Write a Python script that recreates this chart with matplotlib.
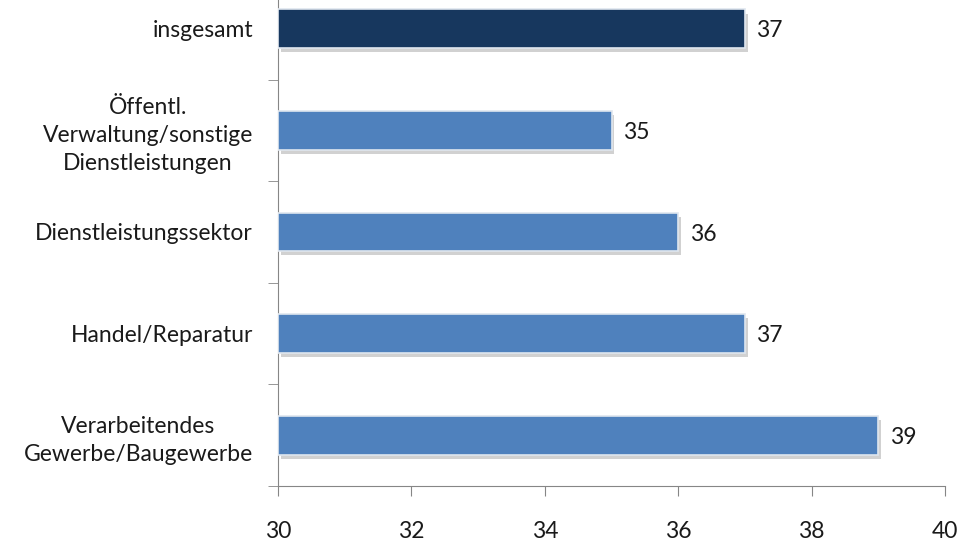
import numpy as np
import matplotlib.pyplot as plt
import matplotlib.patheffects as pe

kategorien = ["insgesamt", "Öffentl.\nVerwaltung/sonstige\nDienstleistungen",
              "Dienstleistungssektor", "Handel/Reparatur",
              "Verarbeitendes\nGewerbe/Baugewerbe"]
werte = [37, 35, 36, 37, 39]
farben = ["#17375E", "#4F81BD", "#4F81BD", "#4F81BD", "#4F81BD"]
x_ticks = [30, 32, 34, 36, 38, 40]

plt.rcParams['font.family'] = ['Lato', 'DejaVu Sans']

fig = plt.figure(figsize=(9.62, 5.43), dpi=100)
ax = fig.add_axes([278 / 962, 57 / 543, 667 / 962, 508 / 543])

y = np.arange(len(kategorien))
schatten = [pe.SimplePatchShadow(offset=(2, -3), shadow_rgbFace="#9a9a9a", alpha=0.45), pe.Normal()]
bars = ax.barh(y, [w - 30 for w in werte], left=30, height=0.38, color=farben,
               edgecolor="#dfe6ef", linewidth=1.2, zorder=3)
for b in bars:
    b.set_path_effects(schatten)

for yi, w in zip(y, werte):
    ax.text(w + 0.17, yi + 0.02, str(w), va="center", ha="left", fontsize=16.5, color="#1a1a1a")

ax.set_xlim(30, 40)
ax.set_ylim(len(kategorien) - 0.5, -0.5)
ax.set_xticks(x_ticks)
ax.set_xticklabels([str(t) for t in x_ticks], fontsize=16.5, color="#1a1a1a")
ax.set_yticks(y)
ax.set_yticklabels(kategorien, fontsize=16.5, color="#1a1a1a", multialignment="center",
                   linespacing=1.4)
ax.set_yticks(np.arange(len(kategorien)) + 0.5, minor=True)
ax.tick_params(axis="y", which="major", length=0, pad=18)
ax.tick_params(axis="y", which="minor", length=7, color="#868686", direction="out")
ax.tick_params(axis="x", length=7, color="#868686", direction="out", pad=18)

for s in ["top", "right"]:
    ax.spines[s].set_visible(False)
for s in ["left", "bottom"]:
    ax.spines[s].set_color("#868686")

fig.savefig("out.png", dpi=100)
